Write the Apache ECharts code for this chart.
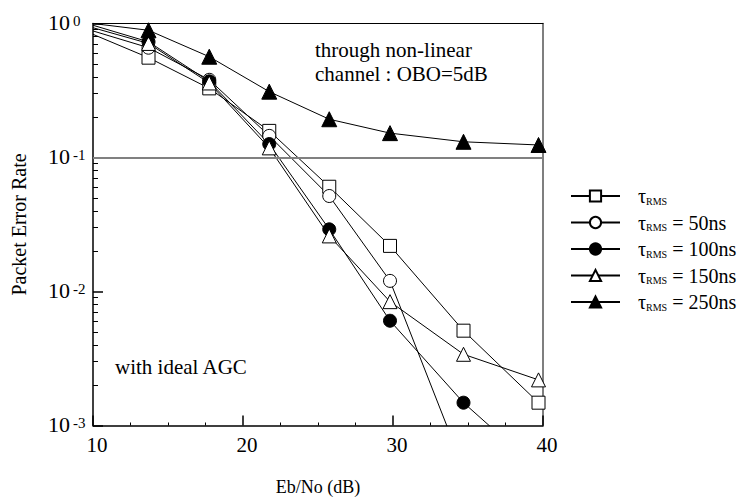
<!DOCTYPE html>
<html><head><meta charset="utf-8">
<script src="https://cdn.jsdelivr.net/npm/echarts@6/dist/echarts.min.js"></script>
<style>html,body{margin:0;padding:0;background:#fff}#c{width:748px;height:501px}</style>
</head><body><div id="c"></div>
<script>
// ---- data ----
const ebNo   = [10, 13.7, 17.75, 21.75, 25.75, 29.8, 34.7, 39.7];
const perRef = [0.83, 0.556, 0.328, 0.158, 0.0605, 0.0219, 0.0051, 0.00148];
const per50  = [0.88, 0.66, 0.38, 0.145, 0.0516, 0.012, 0.00048];
const per100 = [0.97, 0.73, 0.37, 0.126, 0.0291, 0.00605, 0.00148, 0.00047];
const per150 = [0.93, 0.71, 0.36, 0.118, 0.026, 0.0084, 0.0034, 0.00219];
const per250 = [1.0, 0.89, 0.565, 0.31, 0.193, 0.152, 0.131, 0.124];
const seriesNames = ['τRMS', 'τRMS = 50ns', 'τRMS = 100ns', 'τRMS = 150ns', 'τRMS = 250ns'];
const yMinorTicks = [0.002,0.003,0.004,0.005,0.006,0.007,0.008,0.009,
                     0.02,0.03,0.04,0.05,0.06,0.07,0.08,0.09,
                     0.2,0.3,0.4,0.5,0.6,0.7,0.8,0.9];
const refLineValue = 0.1;
const noteTop = 'through non-linear\nchannel : OBO=5dB';
const noteBottom = 'with ideal AGC';

const FONT = 'Liberation Serif';

function mk(name, vals, symbol, filled, size) {
  return {
    name: name, type: 'line', symbol: symbol, symbolSize: size,
    xAxisIndex: 0, yAxisIndex: 0,
    data: vals.map((v, i) => i === 0 ? {value: [ebNo[i], v], symbol: 'none'} : [ebNo[i], v]),
    lineStyle: {color: '#000', width: 1},
    itemStyle: {color: filled ? '#000' : '#fff', borderColor: '#000', borderWidth: 1},
    emphasis: {disabled: true},
    clip: true
  };
}

const series = [
  mk(seriesNames[0], perRef, 'rect', false, 13),
  mk(seriesNames[1], per50, 'circle', false, 13),
  mk(seriesNames[2], per100, 'circle', true, 13),
  mk(seriesNames[3], per150, 'triangle', false, 14),
  mk(seriesNames[4], per250, 'triangle', true, 15)
];
series[0].markLine = {
  silent: true, symbol: 'none', animation: false,
  label: {show: false},
  lineStyle: {color: '#808080', width: 2, type: 'solid'},
  data: [{yAxis: refLineValue}]
};

const gridRect = {left: 93, right: 205, top: 23.5, bottom: 75.5};
const chart = echarts.init(document.getElementById('c'), null, {renderer: 'svg'});
chart.setOption({
  animation: false,
  backgroundColor: '#fff',
  textStyle: {fontFamily: FONT},
  grid: [Object.assign({}, gridRect), Object.assign({}, gridRect)],
  legend: {
    orient: 'vertical', left: 565, top: 181,
    itemWidth: 49, itemHeight: 14, itemGap: 6.5,
    data: seriesNames,
    formatter: function (n) {
      const rest = n.slice(4);
      return '{t|τ}{s|RMS}' + (rest ? '{e|' + rest + '}' : '');
    },
    textStyle: {
      fontFamily: FONT, color: '#000',
      rich: {
        t: {fontFamily: FONT, fontSize: 20, lineHeight: 20, verticalAlign: 'bottom', padding: [0, 0, 0, 13]},
        s: {fontFamily: FONT, fontSize: 10, lineHeight: 12, verticalAlign: 'bottom'},
        e: {fontFamily: FONT, fontSize: 20, lineHeight: 20, verticalAlign: 'bottom'}
      }
    }
  },
  xAxis: [{
    gridIndex: 0, type: 'value', min: 10, max: 40, interval: 10, position: 'bottom',
    axisLine: {show: true, lineStyle: {color: '#000', width: 1.5}},
    axisTick: {show: true, inside: true, length: 10, lineStyle: {color: '#000', width: 1.5}},
    minorTick: {show: true, splitNumber: 4, length: 3, lineStyle: {color: '#000', width: 1}},
    splitLine: {show: false},
    axisLabel: {margin: 9, color: '#000', fontFamily: FONT, fontSize: 21, padding: [0, 0, 0, 8]},
    name: 'Eb/No (dB)', nameLocation: 'middle', nameGap: 52,
    nameTextStyle: {color: '#000', fontFamily: FONT, fontSize: 18}
  }, {
    gridIndex: 0, type: 'value', min: 10, max: 40, position: 'top',
    axisLine: {show: true, lineStyle: {color: '#000', width: 1}},
    axisTick: {show: false}, axisLabel: {show: false}, splitLine: {show: false}
  }, {
    gridIndex: 1, type: 'value', min: 10, max: 40, position: 'bottom', show: false
  }],
  yAxis: [{
    gridIndex: 0, type: 'log', logBase: 10, min: 0.001, max: 1, position: 'left',
    axisLine: {show: true, lineStyle: {color: '#000', width: 1.5}},
    axisTick: {show: true, inside: true, length: 10, lineStyle: {color: '#000', width: 1.5}},
    splitLine: {show: false},
    axisLabel: {
      align: 'left', margin: 45, color: '#000',
      formatter: function (v) { return '{b|10}{p|' + Math.round(Math.log10(v)) + '}'; },
      rich: {
        b: {fontFamily: FONT, fontSize: 22, lineHeight: 20, verticalAlign: 'bottom', color: '#000'},
        p: {fontFamily: FONT, fontSize: 15, lineHeight: 14, verticalAlign: 'top', padding: [0, 0, 22, 3], color: '#000'}
      }
    },
    name: 'Packet Error Rate', nameLocation: 'middle', nameGap: 64, nameRotate: 90,
    nameTextStyle: {color: '#000', fontFamily: FONT, fontSize: 20}
  }, {
    gridIndex: 0, type: 'log', logBase: 10, min: 0.001, max: 1, position: 'right',
    axisLine: {show: true, lineStyle: {color: '#555', width: 1.5}},
    axisTick: {show: false}, axisLabel: {show: false}, splitLine: {show: false}
  }, {
    // minor-tick helper axis (log10 space) in an overlapping grid
    gridIndex: 1, type: 'value', min: -3, max: 0, position: 'left',
    axisLine: {show: false},
    axisTick: {show: true, inside: true, length: 5, customValues: yMinorTicks.map(Math.log10), lineStyle: {color: '#000', width: 1}},
    axisLabel: {show: false}, splitLine: {show: false}
  }],
  graphic: [
    {type: 'text', left: 315, top: 38, silent: true,
     style: {text: noteTop, font: '21px ' + FONT, lineHeight: 24, fill: '#000'}},
    {type: 'text', left: 115, top: 355, silent: true,
     style: {text: noteBottom, font: '21px ' + FONT, lineHeight: 24, fill: '#000'}}
  ],
  series: series
});
</script></body></html>
